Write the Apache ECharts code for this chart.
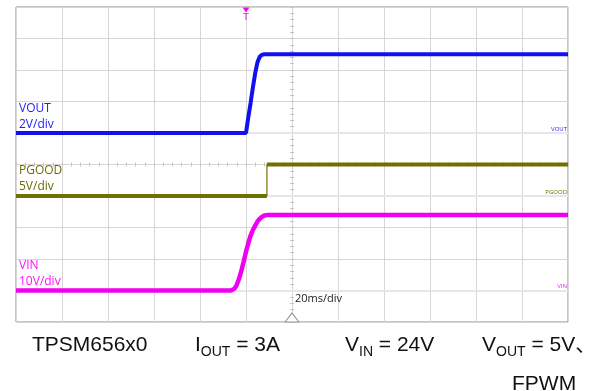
<!DOCTYPE html>
<html><head><meta charset="utf-8">
<script src="https://cdn.jsdelivr.net/npm/echarts@6/dist/echarts.min.js"></script>
<style>html,body{margin:0;padding:0;background:#fff}#c{width:598px;height:391px}</style>
</head><body><div id="c"></div>
<script>
// ---- data (time in ms relative to trigger, values in volts) ----
const channels = ['VOUT', 'PGOOD', 'VIN'];
const scaleLabels = ['2V/div', '5V/div', '10V/div'];
const voltsPerDiv = [2, 5, 10];
const groundDiv = [6, 4, 1];
const timeRange = [-100, 140];
const msPerDiv = 20;
const timeLabel = '20ms/div';

const voutT = [-100, 0, 0.5, 1, 2, 3, 4, 5, 6, 7, 8, 140];
const voutV = [0, 0, 0.5, 1.0, 1.9, 2.9, 3.8, 4.5, 4.85, 4.97, 5.0, 5.0];

const pgoodT = [-100, 9.1, 9.1, 140];
const pgoodV = [0, 0, 5, 5];

const vinT = [-100, -6.5, -5, -4, -3, -2, -1, 0, 1, 2, 3, 4, 5, 6, 7, 8, 9.5, 140];
const vinV = [0, 0, 0.6, 1.8, 3.8, 6.3, 9.2, 12.3, 15.0, 17.4, 19.2, 20.6, 21.9, 22.8, 23.4, 23.8, 24, 24];

const footer = ['TPSM656x0', 'I|OUT| = 3A', 'V|IN| = 24V', 'V|OUT| = 5V、', 'FPWM'];

// ---- styles ----
const colors = ['#1010f0', '#707000', '#f000f0'];
const textColors = ['#1a1aff', '#6b6b00', '#ff10ff'];
const gridColor = '#d6d6d6';
const zip = (a, b) => a.map((v, i) => [v, b[i]]);

const chart = echarts.init(document.getElementById('c'), null, {renderer: 'canvas'});

const chAxes = channels.map((c, i) => ({
  type: 'value', show: false, gridIndex: 0,
  min: -groundDiv[i] * voltsPerDiv[i], max: (10 - groundDiv[i]) * voltsPerDiv[i]
}));

function groundLine(i) {
  return {
    silent: true, symbol: 'none', z: 1, animation: false,
    data: [{yAxis: 0}],
    lineStyle: {color: '#e6e6e6', width: 2, type: 'solid'},
    label: {show: true, position: 'insideEndTop', formatter: channels[i], color: textColors[i], fontSize: 6, distance: [1, 1], fontFamily: 'Open Sans'}
  };
}

// footer texts with subscripts, laid out by measuring text widths
const mainFont = '21px "Liberation Sans", "Noto Sans CJK SC"';
const subFont = '14px "Liberation Sans"';
const mctx = document.createElement('canvas').getContext('2d');
const measure = (t, f) => { mctx.font = f; return mctx.measureText(t).width; };
const footerPos = [[32, 335], [195, 335], [345, 335], [482, 335], [512, 374]];
const footerGraphics = [];
footer.forEach((f, i) => {
  const parts = f.split('|');
  let x = footerPos[i][0];
  const y = footerPos[i][1];
  parts.forEach((p, k) => {
    if (!p) return;
    const isSub = k % 2 === 1;
    const font = isSub ? subFont : mainFont;
    footerGraphics.push({type: 'text', left: x, top: isSub ? y + 10 : y, z: 20,
      style: {text: p, fill: '#111', font: font}});
    x += measure(p, font);
  });
});

const option = {
  animation: false,
  backgroundColor: '#fff',
  grid: {left: 16, top: 7, width: 552, height: 315, show: true, borderColor: '#8a8a8a', borderWidth: 1, backgroundColor: 'transparent'},
  xAxis: [
    {type: 'value', min: timeRange[0], max: timeRange[1], interval: msPerDiv,
     axisLine: {show: false}, axisTick: {show: false}, axisLabel: {show: false},
     splitLine: {show: true, lineStyle: {color: gridColor, width: 1}}},
    {type: 'value', min: -120, max: 120, interval: msPerDiv,
     axisLine: {show: true, onZero: true, onZeroAxisIndex: 1, lineStyle: {color: gridColor}},
     axisTick: {show: true, length: 2, inside: false, lineStyle: {color: '#c4c4c4'}},
     minorTick: {show: true, splitNumber: 5, length: 2, lineStyle: {color: '#c4c4c4'}},
     axisLabel: {show: false}, splitLine: {show: false}},
    {type: 'value', min: -120, max: 120, interval: msPerDiv,
     axisLine: {show: false, onZero: true, onZeroAxisIndex: 1},
     axisTick: {show: true, length: 2, inside: true, lineStyle: {color: '#c4c4c4'}},
     minorTick: {show: true, splitNumber: 5, length: 2, lineStyle: {color: '#c4c4c4'}},
     axisLabel: {show: false}, splitLine: {show: false}}
  ],
  yAxis: [
    {type: 'value', min: 0, max: 10, interval: 1,
     axisLine: {show: false}, axisTick: {show: false}, axisLabel: {show: false},
     splitLine: {show: true, lineStyle: {color: gridColor, width: 1}}},
    {type: 'value', min: -5, max: 5, interval: 1,
     axisLine: {show: true, onZero: true, onZeroAxisIndex: 1, lineStyle: {color: gridColor}},
     axisTick: {show: true, length: 2, inside: false, lineStyle: {color: '#c4c4c4'}},
     minorTick: {show: true, splitNumber: 5, length: 2, lineStyle: {color: '#c4c4c4'}},
     axisLabel: {show: false}, splitLine: {show: false}},
    {type: 'value', min: -5, max: 5, interval: 1,
     axisLine: {show: false, onZero: true, onZeroAxisIndex: 1},
     axisTick: {show: true, length: 2, inside: true, lineStyle: {color: '#c4c4c4'}},
     minorTick: {show: true, splitNumber: 5, length: 2, lineStyle: {color: '#c4c4c4'}},
     axisLabel: {show: false}, splitLine: {show: false}}
  ].concat(chAxes),
  series: [
    {type: 'line', name: 'VOUT', xAxisIndex: 0, yAxisIndex: 3, data: zip(voutT, voutV),
     symbol: 'none', z: 10, lineStyle: {color: colors[0], width: 4}, markLine: groundLine(0),
     markPoint: {symbol: 'triangle', symbolRotate: 180, symbolSize: [7, 5], symbolOffset: [0, 3], silent: true,
       itemStyle: {color: '#ff00ff'},
       label: {show: true, formatter: 'T', position: 'bottom', distance: 1, color: '#ff00ff', fontSize: 9, fontFamily: 'DejaVu Sans'},
       data: [{coord: [0, 8]}]}},
    {type: 'line', name: 'PGOOD', xAxisIndex: 0, yAxisIndex: 4, data: zip(pgoodT.slice(0, 2), pgoodV.slice(0, 2)).concat([['-', '-']], zip(pgoodT.slice(2), pgoodV.slice(2))),
     symbol: 'none', z: 10, lineStyle: {color: colors[1], width: 4}, markLine: groundLine(1)},
    {type: 'line', name: 'PGOOD edge', xAxisIndex: 0, yAxisIndex: 4, data: zip(pgoodT.slice(1, 3), pgoodV.slice(1, 3)),
     symbol: 'none', z: 10, lineStyle: {color: colors[1], width: 1.2}},
    {type: 'line', name: 'VIN', xAxisIndex: 0, yAxisIndex: 5, data: zip(vinT, vinV),
     symbol: 'none', z: 10, lineStyle: {color: colors[2], width: 4.5}, markLine: groundLine(2),
     markPoint: {symbol: 'triangle', symbolSize: [14, 9], symbolOffset: [0, -4.5], silent: true,
       itemStyle: {color: '#fff', borderColor: '#999', borderWidth: 1}, label: {show: false},
       data: [{coord: [20, -10]}]}}
  ],
  graphic: [
    {type: 'text', left: 19, top: 101, z: 20, style: {text: channels[0] + '\n' + scaleLabels[0], fill: textColors[0], font: '12px "Open Sans"', lineHeight: 16}},
    {type: 'text', left: 19, top: 163, z: 20, style: {text: channels[1] + '\n' + scaleLabels[1], fill: textColors[1], font: '12px "Open Sans"', lineHeight: 16}},
    {type: 'text', left: 19, top: 258, z: 20, style: {text: channels[2] + '\n' + scaleLabels[2], fill: textColors[2], font: '12px "Open Sans"', lineHeight: 16}},
    {type: 'text', left: 295, top: 293, z: 20, style: {text: timeLabel, fill: '#222', font: '11px "Open Sans"'}}
  ].concat(footerGraphics)
};
chart.setOption(option);
</script></body></html>
